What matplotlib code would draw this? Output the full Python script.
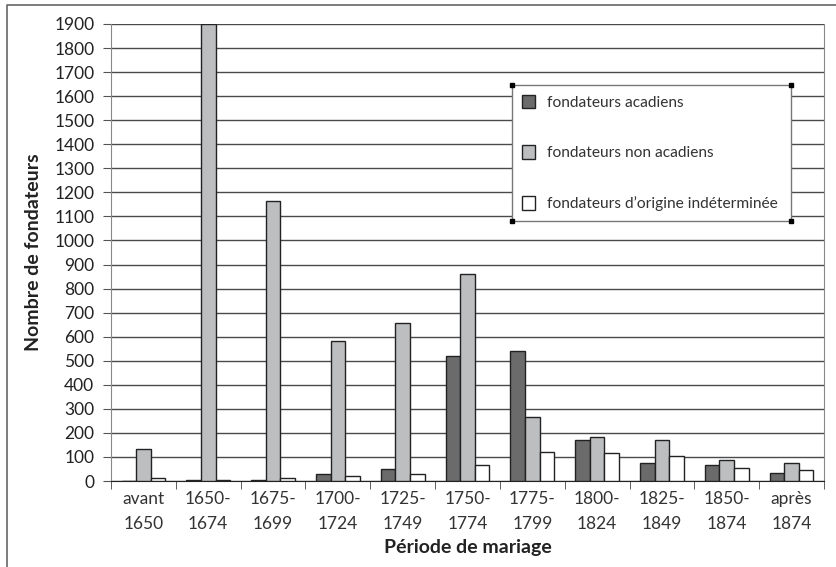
import numpy as np
import matplotlib.pyplot as plt
from matplotlib.lines import Line2D

# Data
periodes = ["avant\n1650", "1650-\n1674", "1675-\n1699", "1700-\n1724", "1725-\n1749",
            "1750-\n1774", "1775-\n1799", "1800-\n1824", "1825-\n1849", "1850-\n1874",
            "après\n1874"]
acadiens = [0, 3, 3, 29, 49, 520, 542, 171, 75, 68, 35]
non_acadiens = [134, 1900, 1163, 580, 656, 861, 268, 185, 171, 89, 75]
indetermines = [12, 3, 12, 22, 30, 67, 119, 117, 105, 53, 44]
noms = ["fondateurs acadiens", "fondateurs non acadiens",
        "fondateurs d\u2019origine indéterminée"]

plt.rcParams['font.family'] = ['Lato', 'DejaVu Sans']

fig = plt.figure(figsize=(8.36, 5.67), dpi=100)
ax = fig.add_axes([111 / 836, 1 - 481 / 567, 713 / 836, 457 / 567])

x = np.arange(len(periodes))
w = 0.225
kw = dict(edgecolor='#222222', linewidth=1.0, zorder=3)
ax.bar(x - w, acadiens, w, color='#6b6b6b', label=noms[0], **kw)
ax.bar(x, non_acadiens, w, color='#bdbebf', label=noms[1], **kw)
ax.bar(x + w, indetermines, w, color='white', label=noms[2], **kw)

ax.set_xlim(-0.5, len(periodes) - 0.5)
ax.set_ylim(0, 1900)
ax.set_yticks(np.arange(0, 2000, 100))
ax.yaxis.grid(True, color='#4a4a4a', linewidth=1.0)
ax.set_axisbelow(True)

ax.set_xticks(x)
ax.set_xticklabels(periodes, fontsize=12.5, color='#333333', linespacing=1.75)
ax.set_xticks(np.arange(-0.5, len(periodes)), minor=True)
ax.tick_params(axis='x', which='major', length=0, pad=7)
ax.tick_params(axis='x', which='minor', length=6, color='#444444', direction='out')
ax.tick_params(axis='y', length=6, color='#555555', labelsize=12.5, labelcolor='#222222', pad=6)

ax.spines['top'].set_visible(False)
ax.spines['left'].set_color('#888888')
ax.spines['right'].set_color('#888888')
ax.spines['bottom'].set_color('#222222')

ax.set_ylabel("Nombre de fondateurs", fontsize=14, fontweight='bold', color='#222222')
ax.set_xlabel("Période de mariage", fontsize=14, fontweight='bold', color='#222222')
ax.yaxis.set_label_coords(-0.097, 0.5)
ax.xaxis.set_label_coords(0.5, -0.128)

leg = ax.legend(loc='upper left', bbox_to_anchor=(0.563, 0.866, 0.391, 0.0), mode='expand',
                fontsize=11.2, labelspacing=2.3, handlelength=0.85, handleheight=0.95,
                handletextpad=0.8, borderpad=0.6, borderaxespad=0, fancybox=False,
                framealpha=1, edgecolor='#777777', labelcolor='#333333')
leg.get_frame().set_linewidth(1.0)

# corner handles on the legend box
fig.canvas.draw()
bb = leg.get_window_extent().transformed(fig.transFigure.inverted())
for cx in (bb.x0, bb.x1):
    for cy in (bb.y0, bb.y1):
        fig.add_artist(Line2D([cx], [cy], marker='s', markersize=2.5, color='black',
                              transform=fig.transFigure))

# outer frame (top and left edges visible)
fig.add_artist(Line2D([7 / 836, 7 / 836, 1.0], [0.0, 1 - 5 / 567, 1 - 5 / 567],
                      color='#666666', linewidth=1.2, transform=fig.transFigure))

fig.savefig("out.png", dpi=100)
